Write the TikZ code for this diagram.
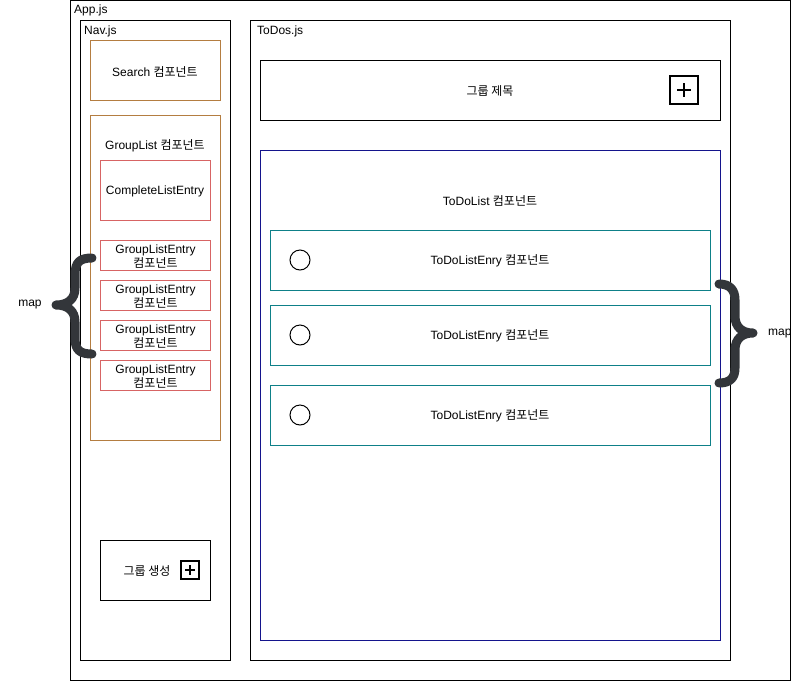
\documentclass[tikz,border=0pt]{standalone}
\usepackage{fontspec}
\setmainfont{Liberation Sans}
\newfontfamily\krfont{Noto Sans CJK KR}
\newcommand{\kr}[1]{{\krfont #1}}
\definecolor{brownc}{RGB}{180,125,65}
\definecolor{redc}{RGB}{215,100,100}
\definecolor{navyc}{RGB}{20,20,140}
\definecolor{tealc}{RGB}{14,128,136}
\definecolor{bracec}{RGB}{51,54,58}
\tikzset{
  box/.style={draw, line width=1pt, anchor=north west, inner sep=0pt, outer sep=0pt},
  txt/.style={font=\fontsize{12}{14}\selectfont, inner sep=0pt, align=center},
  ltxt/.style={txt, anchor=west},
  bracestyle/.style={draw=bracec, line width=9pt, line cap=round, line join=round},
  plusbox/.style={draw, line width=1.6pt, inner sep=0pt, minimum size=#1}
}
\begin{document}
\begin{tikzpicture}[x=1pt,y=-1pt]
\useasboundingbox (0,0) rectangle (811,681);
% containers
\node[box, minimum width=720pt, minimum height=680pt] (app) at (70.5,0.5) {};
\node[ltxt] (applbl) at (74,10) {App.js};
\node[box, minimum width=150pt, minimum height=640pt] (nav) at (80.5,20.5) {};
\node[ltxt] (navlbl) at (84,31) {Nav.js};
\node[box, minimum width=480pt, minimum height=640pt] (todos) at (250.5,20.5) {};
\node[ltxt] (todoslbl) at (257,31) {ToDos.js};
% Nav contents
\node[box, draw=brownc, minimum width=130pt, minimum height=60pt] (search) at (90.5,40.5) {};
\node[txt] (searchlbl) at (155,71.5) {Search \kr{컴포넌트}};
\node[box, draw=brownc, minimum width=130pt, minimum height=325pt] (glist) at (90.5,115.5) {};
\node[txt] (glistlbl) at (155,146) {GroupList \kr{컴포넌트}};
\node[box, draw=redc, minimum width=110pt, minimum height=60pt] (complete) at (100.5,160.5) {};
\node[txt] (completelbl) at (155,191) {CompleteListEntry};
\foreach \i/\y in {1/240,2/280,3/320,4/360}{
  \node[box, draw=redc, minimum width=110pt, minimum height=30pt] (ge\i) at (100.5,\y.5) {};
  \node[txt, font=\fontsize{12}{14}\selectfont, anchor=center] (gel\i) at ([yshift=-1pt]ge\i.center) {GroupListEntry\\\kr{컴포넌트}};
}
\node[box, minimum width=110pt, minimum height=60pt] (gcreate) at (100.5,540.5) {};
\node[txt] (gcreatelbl) at (147,571) {\kr{그룹 생성}};
\node[plusbox=18pt, line width=1.3pt] (gplus) at (190,570) {};
\draw[line width=1.4pt] (gplus.center) ++(-5,0) -- ++(10,0) (gplus.center) ++(0,-5) -- ++(0,10);
% ToDos contents
\node[box, minimum width=460pt, minimum height=60pt] (gtitle) at (260.5,60.5) {};
\node[txt] (gtitlelbl) at (490,91) {\kr{그룹 제목}};
\node[plusbox=28pt] (tplus) at (684,90) {};
\draw[line width=1.6pt] (tplus.center) ++(-7,0) -- ++(14,0) (tplus.center) ++(0,-7) -- ++(0,14);
\node[box, draw=navyc, minimum width=460pt, minimum height=490pt] (tlist) at (260.5,150.5) {};
\node[txt] (tlistlbl) at (490,201) {ToDoList \kr{컴포넌트}};
\foreach \i/\y/\c in {1/230/260,2/305/335,3/385/415}{
  \node[box, draw=tealc, minimum width=440pt, minimum height=60pt] (te\i) at (270.5,\y.5) {};
  \node[draw, circle, line width=1pt, minimum size=20pt, inner sep=0pt] (tc\i) at (300,\c) {};
  \node[txt] (tel\i) at (490,\c+1) {ToDoListEnry \kr{컴포넌트}};
}
% braces
\draw[bracestyle] (92,258) .. controls (80,258) and (75,262) .. (75,275) -- (75,288)
  .. controls (75,299) and (68,305) .. (56,305)
  .. controls (68,305) and (75,311) .. (75,322) -- (75,338)
  .. controls (75,350) and (80,354) .. (92,354);
\node[txt] (mapl) at (30,304.5) {map};
\draw[bracestyle] (719,284) .. controls (730,284) and (735,290) .. (735,300) -- (735,316)
  .. controls (735,327) and (742,333) .. (753,333)
  .. controls (742,333) and (735,339) .. (735,350) -- (735,368)
  .. controls (735,378) and (730,383) .. (719,383);
\node[ltxt] (mapr) at (768,333.5) {map};
\end{tikzpicture}
\end{document}
